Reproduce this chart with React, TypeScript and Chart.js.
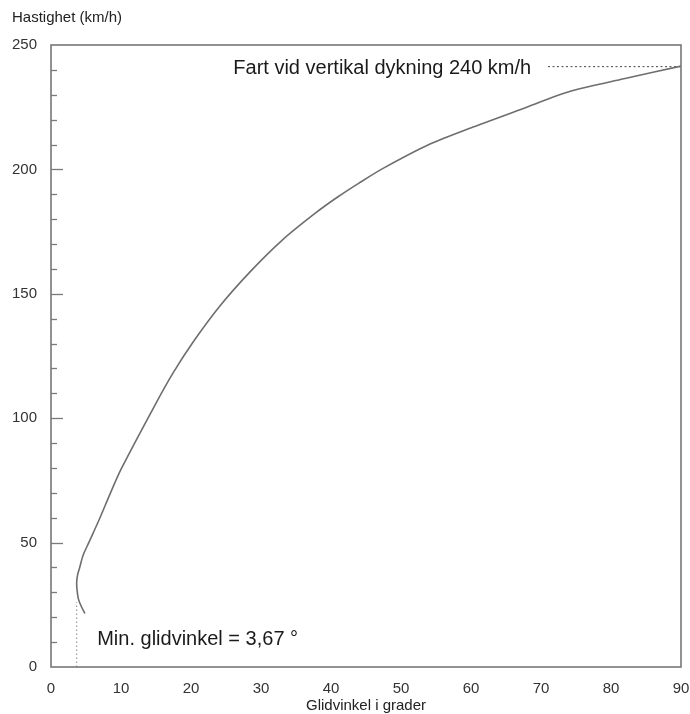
import React, { useEffect, useRef } from "react";
import { Chart, registerables } from "chart.js";

Chart.register(...registerables);

// Curve: glide angle (degrees) vs speed (km/h)
const glideAngle = [4.85, 4.3, 3.9, 3.72, 3.67, 3.8, 4.1, 4.6, 5.4, 7.0, 8.5, 10.1, 14.8, 17.4, 20.4, 24.1, 28.5, 33.0, 37.8, 41.0, 44.0, 47.5, 54.0, 60.3, 67.0, 74.3, 82.0, 90];
const speed = [21.5, 24.5, 27.5, 31, 34, 37, 40, 45, 50, 60, 70, 80, 105, 118, 131, 145, 159, 171.5, 182.5, 189, 194.5, 200.5, 210, 217, 224, 231.5, 236.5, 241.5];

// Reference lines
const minAngleX = [3.67, 3.67];
const minAngleY = [0, 26];
const vmaxX = [71, 90];
const vmaxY = [241.3, 241.3];

// Texts
const yTitle = "Hastighet (km/h)";
const xTitle = "Glidvinkel i grader";
const vmaxLabel = "Fart vid vertikal dykning 240 km/h";
const vmaxLabelAnchor = { x: 68.6, y: 240.6 };
const minLabel = "Min. glidvinkel = 3,67 °";
const minLabelAnchor = { x: 6.6, y: 10.9 };

// Axis settings
const xMin = 0, xMax = 90, xStep = 10;
const yMin = 0, yMax = 250, yStep = 10, yMajor = 50;

const FONT = "'Liberation Sans', Arial, Helvetica, sans-serif";

export default function App() {
  const ref = useRef<HTMLCanvasElement | null>(null);

  useEffect(() => {
    const canvas = ref.current;
    if (!canvas) return;

    const framePlugin = {
      id: "frameAndTicks",
      afterDraw(chart: any) {
        const ctx = chart.ctx;
        const { left, right, top, bottom } = chart.chartArea;
        const ys = chart.scales.y;
        const xs = chart.scales.x;
        ctx.save();
        // inward y ticks
        ctx.strokeStyle = "#7a7a7a";
        ctx.lineWidth = 1.3;
        ys.ticks.forEach((t: any) => {
          const v = t.value;
          if (v === yMin || v === yMax) return;
          const py = Math.round(ys.getPixelForValue(v)) + 0.5;
          const len = v % yMajor === 0 ? 12 : 6;
          ctx.beginPath();
          ctx.moveTo(left, py);
          ctx.lineTo(left + len, py);
          ctx.stroke();
        });
        // frame
        ctx.strokeStyle = "#777";
        ctx.lineWidth = 1.6;
        ctx.strokeRect(left, top, right - left, bottom - top);
        // texts
        ctx.fillStyle = "#1a1a1a";
        ctx.font = `20px ${FONT}`;
        ctx.textBaseline = "middle";
        ctx.textAlign = "right";
        ctx.fillText(vmaxLabel, xs.getPixelForValue(vmaxLabelAnchor.x), ys.getPixelForValue(vmaxLabelAnchor.y));
        ctx.textAlign = "left";
        ctx.fillText(minLabel, xs.getPixelForValue(minLabelAnchor.x), ys.getPixelForValue(minLabelAnchor.y));
        // y title
        ctx.fillStyle = "#222";
        ctx.font = `15px ${FONT}`;
        ctx.textAlign = "left";
        ctx.fillText(yTitle, 12, 18);
        ctx.restore();
      },
    };

    const chart = new Chart(canvas, {
      type: "scatter",
      data: {
        datasets: [
          {
            data: glideAngle.map((x, i) => ({ x, y: speed[i] })),
            showLine: true,
            borderColor: "#6e6e6e",
            borderWidth: 1.6,
            pointRadius: 0,
            tension: 0.3,
          },
          {
            data: minAngleX.map((x, i) => ({ x, y: minAngleY[i] })),
            showLine: true,
            borderColor: "#888",
            borderWidth: 1,
            borderDash: [1.5, 2.5],
            pointRadius: 0,
          },
          {
            data: vmaxX.map((x, i) => ({ x, y: vmaxY[i] })),
            showLine: true,
            borderColor: "#444",
            borderWidth: 1,
            borderDash: [2, 2.5],
            pointRadius: 0,
          },
        ],
      },
      plugins: [framePlugin],
      options: {
        animation: false,
        responsive: false,
        devicePixelRatio: 1,
        layout: { padding: { left: 0, top: 45, right: 9, bottom: 0 } },
        plugins: {
          legend: { display: false },
          tooltip: { enabled: false },
          title: { display: false },
        },
        scales: {
          x: {
            type: "linear",
            min: xMin,
            max: xMax,
            grid: { drawOnChartArea: false, drawTicks: false },
            border: { display: false },
            ticks: {
              stepSize: xStep,
              padding: 13,
              color: "#333",
              font: { family: FONT, size: 15 },
            },
            title: {
              display: true,
              text: xTitle,
              color: "#222",
              font: { family: FONT, size: 15 },
              padding: { top: 0, bottom: -1 },
            },
            afterFit: (s: any) => {
              s.height = 714 - 667;
              s.paddingLeft = 0;
              s.paddingRight = 0;
            },
          },
          y: {
            type: "linear",
            min: yMin,
            max: yMax,
            grid: { drawOnChartArea: false, drawTicks: false },
            border: { display: false },
            ticks: {
              stepSize: yStep,
              padding: 14,
              color: "#333",
              font: { family: FONT, size: 15 },
              autoSkip: false,
              callback: (v: any) => (Number(v) % yMajor === 0 ? String(v) : ""),
            },
            afterFit: (s: any) => {
              s.width = 51;
              s.paddingTop = 0;
              s.paddingBottom = 0;
            },
          },
        },
      },
    } as any);

    return () => chart.destroy();
  }, []);

  return (
    <div style={{ position: "fixed", left: 0, top: 0, width: 690, height: 714, background: "#fff" }}>
      <canvas ref={ref} width={690} height={714} style={{ display: "block", width: 690, height: 714 }} />
    </div>
  );
}
